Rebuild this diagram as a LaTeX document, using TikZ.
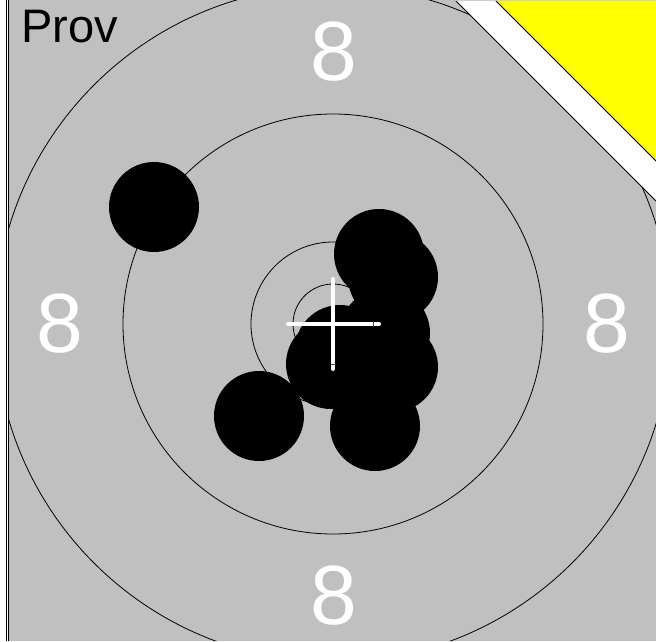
\documentclass[tikz,border=0pt]{standalone}
\usepackage{fontspec}
\setmainfont{Liberation Sans}
\usepackage{xcolor}
\definecolor{facegray}{RGB}{192,192,192}
\definecolor{cornyellow}{RGB}{255,255,0}
\usetikzlibrary{positioning}

\begin{document}
\begin{tikzpicture}[x=1pt,y=-1pt,
  ring/.style={draw=black,line width=0.8pt},
  shot/.style={circle,fill=black,inner sep=0pt,minimum size=90pt},
  num/.style={text=white,font=\fontsize{84}{84}\selectfont,inner sep=0pt},
  hair/.style={draw=white,line width=4pt,line cap=round},
  tick/.style={draw=black!70,line width=1pt}
]
  \useasboundingbox (0,0) rectangle (656,641);

  % Face and corner
  \fill[facegray] (8,0) -- (455,0) -- (656,201) -- (656,641) -- (8,641) -- cycle;
  \fill[cornyellow] (495,0) -- (656,0) -- (656,161) -- cycle;
  \draw[line width=0.8pt] (495,0) -- (656,161);
  \draw[line width=0.8pt] (455,0) -- (656,201);
  \draw[black!20,line width=0.8pt] (455,0.4) -- (656,0.4);

  % Rings
  \begin{scope}
    \clip (8,0) -- (455,0) -- (656,201) -- (656,641) -- (8,641) -- cycle;
    \coordinate (c) at (333,324);
    \draw[ring] (c) circle[radius=40pt];
    \draw[ring] (c) circle[radius=82pt];
    \draw[ring] (c) circle[radius=210pt];
    \draw[ring] (c) circle[radius=338pt];
  \end{scope}

  % Ring numbers
  \node[num] (n8t) at (334,52) {8};
  \node[num] (n8l) at (60,324) {8};
  \node[num] (n8r) at (606.5,324) {8};
  \node[num] (n8b) at (334,596) {8};

  % Shots
  \node[shot] (s1) at (154,207) {};
  \node[shot] (s2) at (379,254) {};
  \node[shot] (s3) at (393,277) {};
  \node[shot] (s4) at (385,333) {};
  \node[shot] (s5) at (340,350) {};
  \node[shot] (s6) at (331,364) {};
  \node[shot] (s7) at (393,367) {};
  \node[shot] (s8) at (259,416) {};
  \node[shot] (s9) at (375,426) {};

  % Crosshair
  \coordinate (hl) at (288,324);
  \coordinate (hr) at (379,324);
  \coordinate (vt) at (333,279);
  \coordinate (vb) at (333,369);
  \draw[hair] (hl) -- (hr);
  \draw[hair] (vt) -- (vb);
  \draw[tick] (373,321.5) -- (373,326.5);
  \draw[tick] (330.5,364) -- (335.5,364);

  % Left edge
  \draw[line width=1.3pt] (6.2,0) -- (6.2,641);
  \draw[line width=1pt] (8.4,0) -- (8.4,641);

  \node[anchor=base west,inner sep=0pt,font=\fontsize{47}{47}\selectfont] (prov) at (21,42) {Prov};
\end{tikzpicture}
\end{document}
